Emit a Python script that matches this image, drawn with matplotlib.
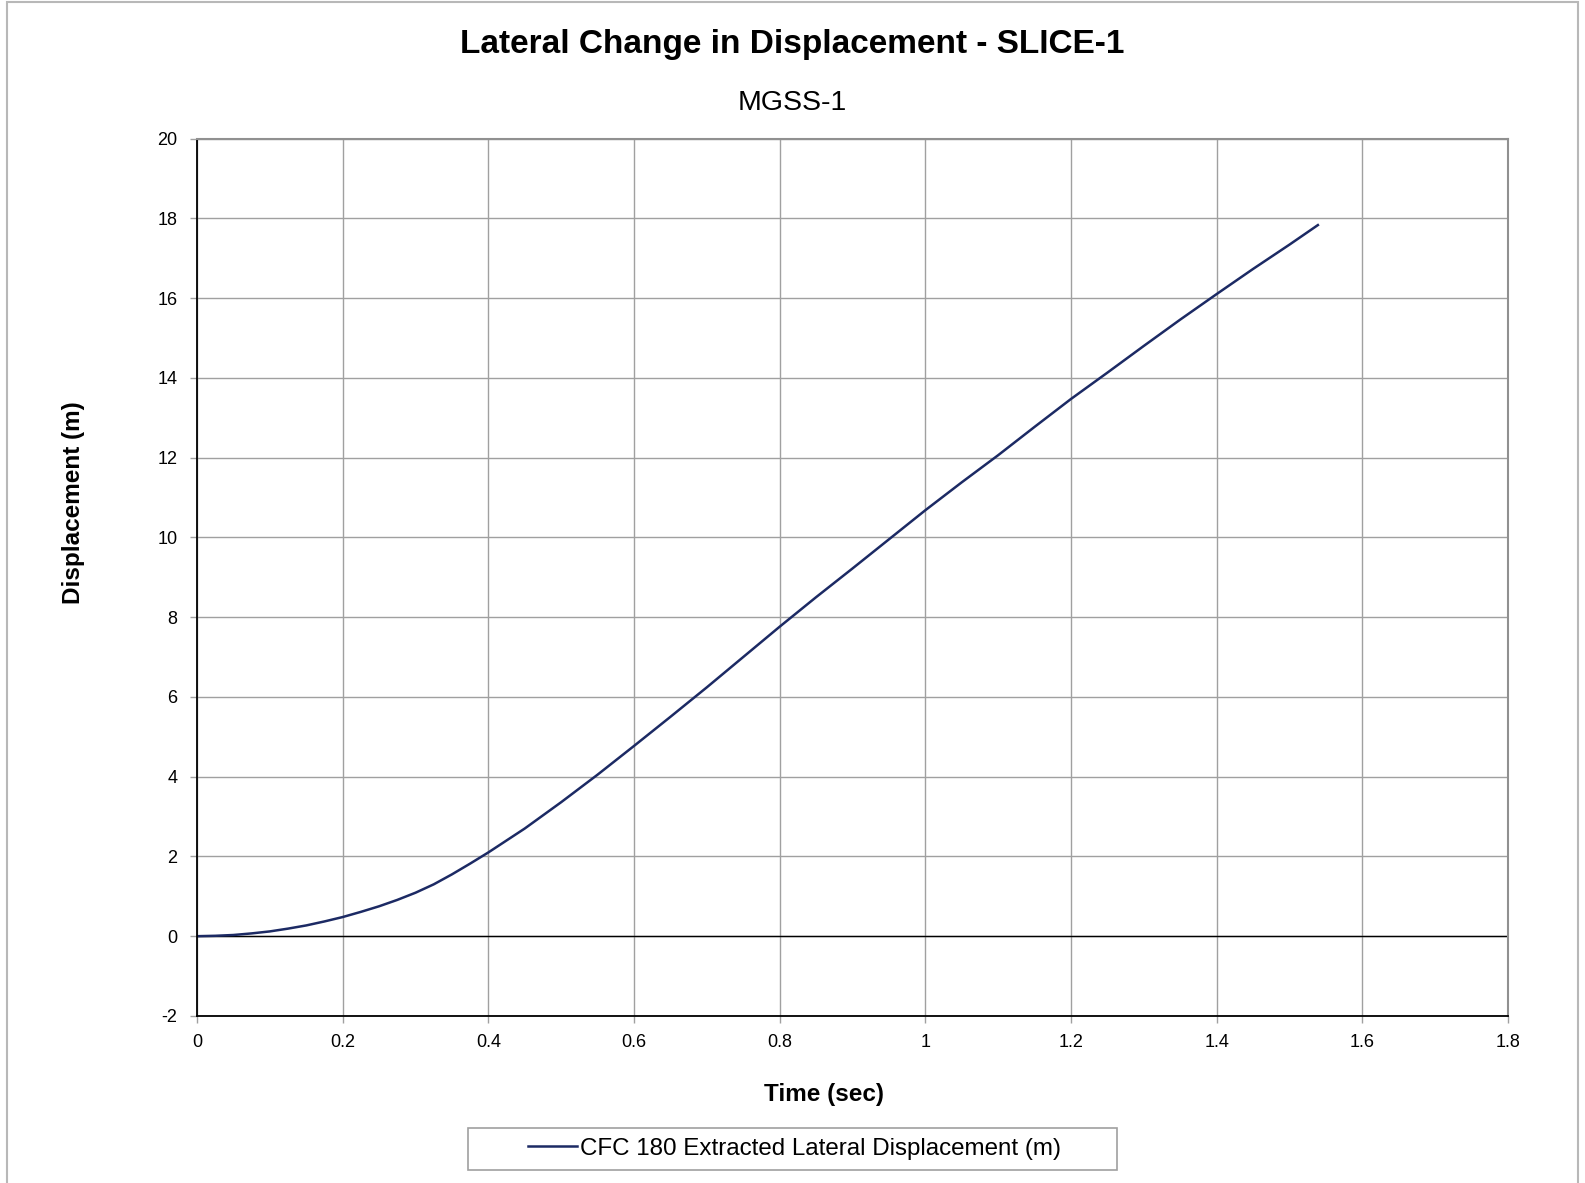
import matplotlib.pyplot as plt
from matplotlib.patches import Rectangle
from matplotlib.lines import Line2D

# values
time_s = [0.0, 0.025, 0.05, 0.075, 0.1, 0.125, 0.15, 0.175, 0.2, 0.225, 0.25, 0.275,
          0.3, 0.325, 0.35, 0.375, 0.4, 0.45, 0.5, 0.55, 0.6, 0.65,
          0.7, 0.75, 0.8, 0.85, 0.9, 0.95, 1.0, 1.05, 1.1, 1.15, 1.2, 1.25, 1.3, 1.35,
          1.4, 1.45, 1.5, 1.539]
displacement_m = [0.0, 0.01, 0.03, 0.07, 0.12, 0.19, 0.27, 0.37, 0.48, 0.61, 0.75, 0.91,
                  1.09, 1.3, 1.55, 1.82, 2.1, 2.7, 3.36, 4.05,
                  4.77, 5.5, 6.24, 7.0, 7.76, 8.5, 9.22, 9.95, 10.68, 11.38, 12.06, 12.77,
                  13.47, 14.13, 14.8, 15.46, 16.1, 16.73, 17.34, 17.83]
x_ticks = [0, 0.2, 0.4, 0.6, 0.8, 1, 1.2, 1.4, 1.6, 1.8]
y_ticks = [-2, 0, 2, 4, 6, 8, 10, 12, 14, 16, 18, 20]
series_name = 'CFC 180 Extracted Lateral Displacement (m)'
line_color = '#1c2a64'

plt.rcParams['font.family'] = ['Liberation Sans', 'DejaVu Sans']
plt.rcParams['axes.unicode_minus'] = False

fig = plt.figure(figsize=(15.85, 11.83), dpi=100)
ax = fig.add_axes([0.1243, 0.1412, 0.9514 - 0.1243, 0.8829 - 0.1412])

ax.plot(time_s, displacement_m, color=line_color, linewidth=1.8, solid_joinstyle='round')
ax.axhline(0, color='black', linewidth=1.0, zorder=1)

ax.set_xlim(0, 1.8)
ax.set_ylim(-2, 20)
ax.set_xticks(x_ticks)
ax.set_xticklabels([f'{t:g}' for t in x_ticks])
ax.set_yticks(y_ticks)
ax.grid(True, color='#a0a0a0', linewidth=1.0)
ax.set_axisbelow(True)
ax.tick_params(labelsize=13, length=5, width=1, color='#a0a0a0')
ax.tick_params(axis='x', pad=8)
ax.tick_params(axis='y', pad=9)

for side in ['top', 'right']:
    ax.spines[side].set_color('#909090')
    ax.spines[side].set_linewidth(1.5)
for side in ['left', 'bottom']:
    ax.spines[side].set_color('black')
    ax.spines[side].set_linewidth(1.3)

# titles and axis labels placed like the reference
fig.text(0.5, 0.962, 'Lateral Change in Displacement - SLICE-1', ha='center', va='center',
         fontsize=24, fontweight='bold')
fig.text(0.5, 0.913, 'MGSS-1', ha='center', va='center', fontsize=20.5)
fig.text(0.5198, 0.0745, 'Time (sec)', ha='center', va='center',
         fontsize=17.5, fontweight='bold')
fig.text(0.0466, 0.575, 'Displacement (m)', ha='center', va='center', rotation=90,
         fontsize=17.5, fontweight='bold')

# legend: wide box drawn by hand, entry centred inside
fig.patches.append(Rectangle((0.2953, 0.0111), 0.7047 - 0.2953, 0.0462 - 0.0111,
                             transform=fig.transFigure, fill=False,
                             edgecolor='#a0a0a0', linewidth=1.2))
handle = Line2D([], [], color=line_color, linewidth=1.8)
fig.legend([handle], [series_name], loc='center', bbox_to_anchor=(0.5015, 0.029),
           fontsize=17.4, frameon=False, handlelength=2.0, handletextpad=0.15)

# outer border of the chart area
fig.patches.append(Rectangle((0.0045, -0.01), 0.991, 1.008, transform=fig.transFigure,
                             fill=False, edgecolor='#b8b8b8', linewidth=1.5))

fig.savefig('out.png', dpi=100)
